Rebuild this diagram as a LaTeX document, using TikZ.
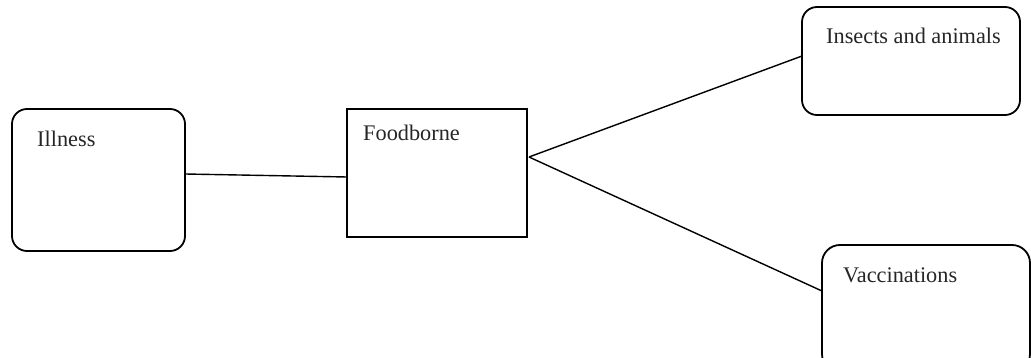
\documentclass[tikz,border=0pt]{standalone}
\usepackage{fontspec}
\setmainfont{Liberation Serif}
\begin{document}
\begin{tikzpicture}[x=1pt,y=-1pt,
  rbox/.style={draw=black,line width=1.8pt,rounded corners=15pt},
  sbox/.style={draw=black,line width=1.8pt},
  lbl/.style={anchor=base west,inner sep=0pt,font=\fontsize{22.3}{26}\selectfont,text=black!85},
  conn/.style={draw=black,line width=1.4pt}]
\useasboundingbox (0,0) rectangle (1031,358);
\clip (0,0) rectangle (1031,358);
\fill[white] (0,0) rectangle (1031,358);
% boxes
\draw[rbox] (12,109) rectangle (185,251);
\draw[sbox] (347,109) rectangle (527,237);
\draw[rbox] (802,7) rectangle (1020,115);
\draw[rbox,rounded corners=18pt] (822,245) rectangle (1030,372);
% labels
\node[lbl] (ill) at (37,147) {Illness};
\node[lbl] (food) at (363,141) {Foodborne};
\node[lbl] (ins) at (826,44) {Insects and animals};
\node[lbl] (vac) at (843,282) {Vaccinations};
% connector end points
\coordinate (illR) at (185,174);
\coordinate (foodL) at (347,177);
\coordinate (foodR) at (529,157);
\coordinate (insL) at (802,56);
\coordinate (vacL) at (822,291);
\draw[conn] (illR) -- (foodL);
\draw[conn] (foodR) -- (insL);
\draw[conn] (foodR) -- (vacL);
\end{tikzpicture}
\end{document}
